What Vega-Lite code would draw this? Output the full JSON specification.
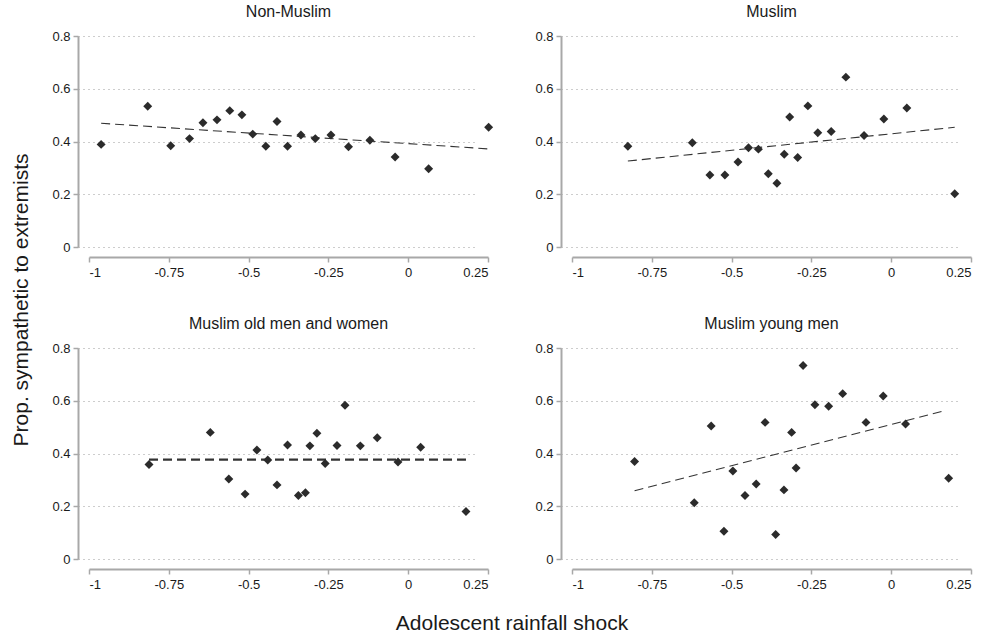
{
  "$schema": "https://vega.github.io/schema/vega-lite/v6.json",
  "background": "white",
  "padding": {"left": 10, "top": 4, "right": 5, "bottom": 5},
  "title": {"text": "Prop. sympathetic to extremists", "orient": "left", "anchor": "middle", "fontSize": 21, "font": "Liberation Sans", "fontWeight": "normal", "color": "#1a1a1a", "offset": 16, "dx": 19, "dy": -4},
  "data": {"values": [
    {"panel": "Non-Muslim", "kind": "point", "x": -0.962, "y": 0.389},
    {"panel": "Non-Muslim", "kind": "point", "x": -0.816, "y": 0.534},
    {"panel": "Non-Muslim", "kind": "point", "x": -0.744, "y": 0.384},
    {"panel": "Non-Muslim", "kind": "point", "x": -0.685, "y": 0.411},
    {"panel": "Non-Muslim", "kind": "point", "x": -0.643, "y": 0.471},
    {"panel": "Non-Muslim", "kind": "point", "x": -0.599, "y": 0.482},
    {"panel": "Non-Muslim", "kind": "point", "x": -0.559, "y": 0.517},
    {"panel": "Non-Muslim", "kind": "point", "x": -0.521, "y": 0.501},
    {"panel": "Non-Muslim", "kind": "point", "x": -0.487, "y": 0.428},
    {"panel": "Non-Muslim", "kind": "point", "x": -0.446, "y": 0.382},
    {"panel": "Non-Muslim", "kind": "point", "x": -0.411, "y": 0.476},
    {"panel": "Non-Muslim", "kind": "point", "x": -0.378, "y": 0.382},
    {"panel": "Non-Muslim", "kind": "point", "x": -0.336, "y": 0.425},
    {"panel": "Non-Muslim", "kind": "point", "x": -0.291, "y": 0.411},
    {"panel": "Non-Muslim", "kind": "point", "x": -0.242, "y": 0.425},
    {"panel": "Non-Muslim", "kind": "point", "x": -0.187, "y": 0.380},
    {"panel": "Non-Muslim", "kind": "point", "x": -0.120, "y": 0.405},
    {"panel": "Non-Muslim", "kind": "point", "x": -0.041, "y": 0.341},
    {"panel": "Non-Muslim", "kind": "point", "x": 0.064, "y": 0.297},
    {"panel": "Non-Muslim", "kind": "point", "x": 0.252, "y": 0.454},
    {"panel": "Non-Muslim", "kind": "fit", "x": -0.962, "y": 0.469},
    {"panel": "Non-Muslim", "kind": "fit", "x": 0.250, "y": 0.372},
    {"panel": "Muslim", "kind": "point", "x": -0.825, "y": 0.382},
    {"panel": "Muslim", "kind": "point", "x": -0.623, "y": 0.395},
    {"panel": "Muslim", "kind": "point", "x": -0.568, "y": 0.273},
    {"panel": "Muslim", "kind": "point", "x": -0.521, "y": 0.273},
    {"panel": "Muslim", "kind": "point", "x": -0.480, "y": 0.322},
    {"panel": "Muslim", "kind": "point", "x": -0.447, "y": 0.376},
    {"panel": "Muslim", "kind": "point", "x": -0.416, "y": 0.371},
    {"panel": "Muslim", "kind": "point", "x": -0.385, "y": 0.278},
    {"panel": "Muslim", "kind": "point", "x": -0.358, "y": 0.242},
    {"panel": "Muslim", "kind": "point", "x": -0.335, "y": 0.352},
    {"panel": "Muslim", "kind": "point", "x": -0.318, "y": 0.493},
    {"panel": "Muslim", "kind": "point", "x": -0.293, "y": 0.339},
    {"panel": "Muslim", "kind": "point", "x": -0.261, "y": 0.535},
    {"panel": "Muslim", "kind": "point", "x": -0.230, "y": 0.433},
    {"panel": "Muslim", "kind": "point", "x": -0.188, "y": 0.438},
    {"panel": "Muslim", "kind": "point", "x": -0.142, "y": 0.644},
    {"panel": "Muslim", "kind": "point", "x": -0.085, "y": 0.423},
    {"panel": "Muslim", "kind": "point", "x": -0.023, "y": 0.485},
    {"panel": "Muslim", "kind": "point", "x": 0.049, "y": 0.527},
    {"panel": "Muslim", "kind": "point", "x": 0.199, "y": 0.202},
    {"panel": "Muslim", "kind": "fit", "x": -0.825, "y": 0.326},
    {"panel": "Muslim", "kind": "fit", "x": 0.199, "y": 0.454},
    {"panel": "Muslim old men and women", "kind": "point", "x": -0.812, "y": 0.358},
    {"panel": "Muslim old men and women", "kind": "point", "x": -0.620, "y": 0.480},
    {"panel": "Muslim old men and women", "kind": "point", "x": -0.562, "y": 0.303},
    {"panel": "Muslim old men and women", "kind": "point", "x": -0.511, "y": 0.246},
    {"panel": "Muslim old men and women", "kind": "point", "x": -0.474, "y": 0.413},
    {"panel": "Muslim old men and women", "kind": "point", "x": -0.440, "y": 0.375},
    {"panel": "Muslim old men and women", "kind": "point", "x": -0.411, "y": 0.281},
    {"panel": "Muslim old men and women", "kind": "point", "x": -0.378, "y": 0.432},
    {"panel": "Muslim old men and women", "kind": "point", "x": -0.344, "y": 0.241},
    {"panel": "Muslim old men and women", "kind": "point", "x": -0.322, "y": 0.251},
    {"panel": "Muslim old men and women", "kind": "point", "x": -0.308, "y": 0.429},
    {"panel": "Muslim old men and women", "kind": "point", "x": -0.286, "y": 0.477},
    {"panel": "Muslim old men and women", "kind": "point", "x": -0.260, "y": 0.362},
    {"panel": "Muslim old men and women", "kind": "point", "x": -0.223, "y": 0.430},
    {"panel": "Muslim old men and women", "kind": "point", "x": -0.198, "y": 0.583},
    {"panel": "Muslim old men and women", "kind": "point", "x": -0.150, "y": 0.429},
    {"panel": "Muslim old men and women", "kind": "point", "x": -0.097, "y": 0.460},
    {"panel": "Muslim old men and women", "kind": "point", "x": -0.032, "y": 0.368},
    {"panel": "Muslim old men and women", "kind": "point", "x": 0.039, "y": 0.424},
    {"panel": "Muslim old men and women", "kind": "point", "x": 0.181, "y": 0.180},
    {"panel": "Muslim old men and women", "kind": "fit", "x": -0.812, "y": 0.377},
    {"panel": "Muslim old men and women", "kind": "fit", "x": 0.181, "y": 0.377},
    {"panel": "Muslim young men", "kind": "point", "x": -0.804, "y": 0.370},
    {"panel": "Muslim young men", "kind": "point", "x": -0.617, "y": 0.213},
    {"panel": "Muslim young men", "kind": "point", "x": -0.564, "y": 0.504},
    {"panel": "Muslim young men", "kind": "point", "x": -0.524, "y": 0.105},
    {"panel": "Muslim young men", "kind": "point", "x": -0.496, "y": 0.334},
    {"panel": "Muslim young men", "kind": "point", "x": -0.458, "y": 0.241},
    {"panel": "Muslim young men", "kind": "point", "x": -0.423, "y": 0.284},
    {"panel": "Muslim young men", "kind": "point", "x": -0.395, "y": 0.518},
    {"panel": "Muslim young men", "kind": "point", "x": -0.362, "y": 0.093},
    {"panel": "Muslim young men", "kind": "point", "x": -0.336, "y": 0.262},
    {"panel": "Muslim young men", "kind": "point", "x": -0.312, "y": 0.480},
    {"panel": "Muslim young men", "kind": "point", "x": -0.298, "y": 0.345},
    {"panel": "Muslim young men", "kind": "point", "x": -0.276, "y": 0.734},
    {"panel": "Muslim young men", "kind": "point", "x": -0.239, "y": 0.585},
    {"panel": "Muslim young men", "kind": "point", "x": -0.196, "y": 0.579},
    {"panel": "Muslim young men", "kind": "point", "x": -0.152, "y": 0.627},
    {"panel": "Muslim young men", "kind": "point", "x": -0.079, "y": 0.518},
    {"panel": "Muslim young men", "kind": "point", "x": -0.025, "y": 0.618},
    {"panel": "Muslim young men", "kind": "point", "x": 0.045, "y": 0.512},
    {"panel": "Muslim young men", "kind": "point", "x": 0.180, "y": 0.306},
    {"panel": "Muslim young men", "kind": "fit", "x": -0.804, "y": 0.259},
    {"panel": "Muslim young men", "kind": "fit", "x": 0.169, "y": 0.563}
  ]},
  "facet": {
    "field": "panel",
    "type": "nominal",
    "sort": ["Non-Muslim", "Muslim", "Muslim old men and women", "Muslim young men"],
    "header": {
      "title": "Adolescent rainfall shock",
      "titleOrient": "bottom",
      "titleFontSize": 21,
      "titleFont": "Liberation Sans",
      "titleFontWeight": "normal",
      "titleColor": "#1a1a1a",
      "titlePadding": 22,
      "labelOrient": "top",
      "labelFontSize": 16,
      "labelFont": "Liberation Sans",
      "labelColor": "#1a1a1a",
      "labelPadding": 10
    }
  },
  "columns": 2,
  "spacing": {"column": 40, "row": 37},
  "resolve": {"axis": {"x": "independent", "y": "independent"}},
  "spec": {
    "width": 399,
    "height": 211,
    "layer": [
      {
        "transform": [{"filter": "datum.kind === 'fit'"}],
        "mark": {"type": "line", "color": "#333333", "strokeDash": [9, 5]},
        "encoding": {
          "x": {"field": "x", "type": "quantitative"},
          "y": {"field": "y", "type": "quantitative"},
          "strokeWidth": {"condition": {"test": "datum.panel === 'Muslim old men and women'", "value": 2.2}, "value": 1.1}
        }
      },
      {
        "transform": [{"filter": "datum.kind === 'point'"}],
        "mark": {"type": "point", "shape": "diamond", "filled": true, "color": "#2b2b2b", "opacity": 1, "size": 80},
        "encoding": {
          "x": {"field": "x", "type": "quantitative", "scale": {"domain": [-1, 0.25], "nice": false, "zero": false},
                "axis": {"values": [-1, -0.75, -0.5, -0.25, 0, 0.25], "labelExpr": "datum.value < 0 ? '-' + format(-datum.value, '~g') : format(datum.value, '~g')"}},
          "y": {"field": "y", "type": "quantitative", "scale": {"domain": [0, 0.8], "nice": false, "zero": false},
                "axis": {"values": [0, 0.2, 0.4, 0.6, 0.8], "labelExpr": "format(datum.value, '.1~f')"}}
        }
      }
    ]
  },
  "config": {
    "view": {"stroke": null},
    "axis": {
      "title": null,
      "domainColor": "#a8a8a8",
      "domainWidth": 2,
      "tickColor": "#a8a8a8",
      "tickWidth": 1.5,
      "tickSize": 5,
      "labelFont": "Liberation Sans",
      "labelFontSize": 13,
      "labelColor": "#1a1a1a"
    },
    "axisY": {
      "offset": 11,
      "grid": true,
      "gridColor": "#9a9a9a",
      "gridDash": [1, 4],
      "gridWidth": 1,
      "labelPadding": 3
    },
    "axisX": {
      "offset": 10,
      "grid": false,
      "labelPadding": 4
    }
  }
}
